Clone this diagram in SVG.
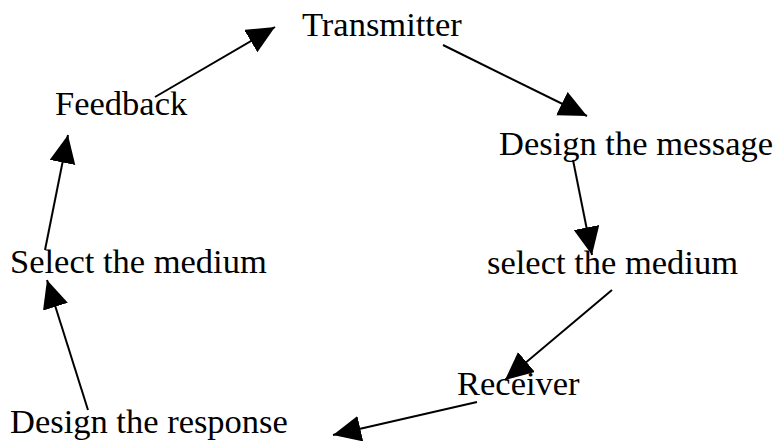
<svg xmlns="http://www.w3.org/2000/svg" width="777" height="441" viewBox="0 0 777 441">
  <style>
    .label { font-family: "Liberation Serif", "Times New Roman", serif; font-size: 34.5px; fill: #000; }
    .link { stroke: #000; stroke-width: 2; fill: none; marker-end: url(#head); }
  </style>
  <defs>
    <marker id="head" markerUnits="userSpaceOnUse" markerWidth="30" markerHeight="28" refX="28" refY="13" orient="auto">
      <path d="M0,0 L28,13 L0,26 Z" fill="#000"/>
    </marker>
  </defs>
  <rect width="777" height="441" fill="#fff"/>

  <g id="connectors">
    <line class="link" x1="155" y1="97" x2="275" y2="27"/>
    <line class="link" x1="443" y1="45" x2="587" y2="116"/>
    <line class="link" x1="573" y1="160" x2="592" y2="255"/>
    <line class="link" x1="612" y1="290" x2="505" y2="380"/>
    <line class="link" x1="477" y1="402" x2="333" y2="435"/>
    <line class="link" x1="88" y1="410" x2="47" y2="280"/>
    <line class="link" x1="45" y1="250" x2="68" y2="135"/>
  </g>

  <g id="transmitter"><text class="label" x="302" y="36">Transmitter</text></g>
  <g id="design-message"><text class="label" x="499" y="155">Design the message</text></g>
  <g id="select-medium-right"><text class="label" x="487" y="274">select the medium</text></g>
  <g id="receiver"><text class="label" x="457" y="395">Receiver</text></g>
  <g id="design-response"><text class="label" x="10" y="433">Design the response</text></g>
  <g id="select-medium-left"><text class="label" x="10" y="273">Select the medium</text></g>
  <g id="feedback"><text class="label" x="55" y="115">Feedback</text></g>
</svg>
